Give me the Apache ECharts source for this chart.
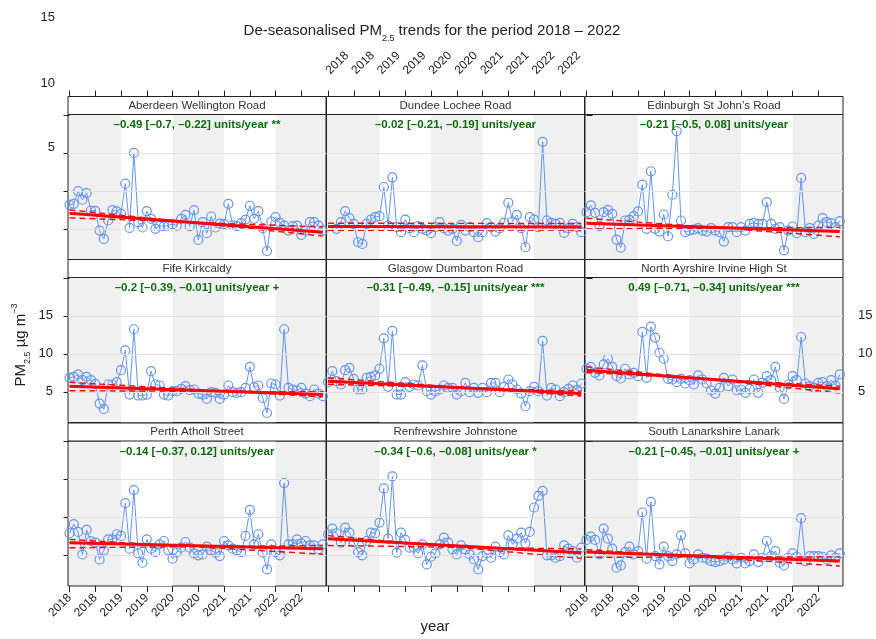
<!DOCTYPE html>
<html><head><meta charset="utf-8">
<script src="https://cdn.jsdelivr.net/npm/echarts@6/dist/echarts.min.js"></script>
<style>html,body{margin:0;padding:0;background:#fff}#c{width:876px;height:639px}</style>
</head><body><div id="c"></div>
<script>
// ---------- data ----------
const sites = ['Aberdeen Wellington Road','Dundee Lochee Road','Edinburgh St John\u2019s Road',
  'Fife Kirkcaldy','Glasgow Dumbarton Road','North Ayrshire Irvine High St',
  'Perth Atholl Street','Renfrewshire Johnstone','South Lanarkshire Lanark'];
const trendLabels = [
  '\u20130.49 [\u20130.7, \u20130.22] units/year **',
  '\u20130.02 [\u20130.21, \u20130.19] units/year',
  '\u20130.21 [\u20130.5, 0.08] units/year',
  '\u20130.2 [\u20130.39, \u20130.01] units/year +',
  '\u20130.31 [\u20130.49, \u20130.15] units/year ***',
  '0.49 [\u20130.71, \u20130.34] units/year ***',
  '\u20130.14 [\u20130.37, 0.12] units/year',
  '\u20130.34 [\u20130.6, \u20130.08] units/year *',
  '\u20130.21 [\u20130.45, \u20130.01] units/year +'];
// month index 0 = Jan 2018 ... 59 = Dec 2022
const tickMonths = [0,6,12,18,24,30,36,42,48,54];
const tickYears = ['2018','2018','2019','2019','2020','2020','2021','2021','2022','2022'];
const yTicks = [5,10,15,20];
const yLabels = [5,10,15];

const aberdeen = [8.17,8.30,9.98,8.83,9.71,7.42,7.38,4.78,3.68,6.10, 7.47,7.29,6.98,10.95,5.13,15.0,5.88,5.18,7.33,6.32, 5.0,5.40,5.35,5.44,5.62,5.44,6.32,6.85,5.35,7.47, 3.55,5.88,4.43,6.63,5.18,5.70,5.62,8.30,5.48,5.35, 5.75,6.23,8.04,6.32,7.33,5.09,2.09,5.97,6.54,5.79, 5.44,4.78,5.35,5.44,4.21,4.78,5.88,5.88,5.44,4.78];
const dundee = [null,null,5.0,5.88,7.33,6.41,5.66,3.24,3.02,5.66, 6.23,6.54,6.67,10.51,5.44,11.78,5.22,4.56,6.23,5.09, 4.56,5.35,5.0,4.78,4.43,5.22,5.88,5.09,4.78,5.0, 3.41,5.53,4.78,5.22,4.56,3.90,4.56,5.75,5.22,4.65, 5.09,5.79,8.44,5.97,6.85,5.09,2.58,6.54,6.23,5.22, 16.45,6.10,5.79,5.66,5.79,4.47,5.09,5.66,5.22,4.56];
const edinburgh = [7.20,8.08,7.11,5.35,7.20,7.51,6.98,3.59,2.53,6.10, 6.19,6.67,7.29,10.81,5.0,12.58,5.0,4.65,6.89,4.03, 9.49,17.86,6.10,4.56,4.78,4.91,5.09,4.78,4.65,5.09, 4.78,4.56,3.33,5.22,5.22,4.56,5.22,4.78,5.66,5.79, 5.66,5.66,8.52,5.66,5.0,5.22,2.18,4.78,5.31,4.43, 11.70,4.56,5.09,4.34,5.44,6.41,5.88,5.75,5.22,6.01];
const fife = [6.85,6.98,7.29,6.54,6.98,6.54,6.06,3.46,2.75,5.97, 5.97,6.28,7.86,10.46,4.65,13.24,4.52,4.52,4.65,7.73, 5.97,5.84,4.65,4.52,5.09,5.09,5.40,5.75,5.22,5.31, 4.78,4.65,4.07,4.96,4.87,4.07,4.65,5.84,4.96,4.87, 4.96,5.53,8.30,5.62,5.84,4.21,2.22,6.10,5.97,4.52, 13.24,5.53,5.31,5.18,5.53,4.78,4.43,5.31,4.78,4.43];
const glasgow = [6.28,7.73,6.41,5.97,7.86,8.17,6.72,5.31,5.31,6.85, 6.98,7.16,8.04,12.05,5.66,13.02,4.65,4.65,6.28,5.66, 5.97,5.84,8.48,5.09,4.65,5.09,5.31,5.84,5.53,5.53, 4.65,5.09,6.19,4.96,5.53,4.87,5.53,4.96,6.19,6.19, 4.96,5.66,6.63,5.97,5.31,4.78,3.11,5.09,5.66,5.09, 11.70,4.52,5.53,5.31,4.43,4.96,5.40,5.84,5.22,6.10];
const nAyrshire = [8.04,8.30,7.51,7.16,8.61,9.36,8.30,7.07,6.76,8.04, 7.29,7.51,7.07,12.89,6.85,13.59,12.14,10.15,9.36,6.72, 6.63,6.28,6.72,6.10,6.54,5.97,7.16,6.63,6.10,5.18, 4.78,5.53,6.85,5.75,6.63,5.18,5.31,4.87,5.40,6.63, 4.87,6.19,7.07,6.54,8.30,5.53,4.07,5.97,7.07,6.54, 12.22,6.10,5.75,5.53,6.19,6.28,5.75,6.54,5.84,7.29];
const perth = [7.91,9.10,8.08,5.13,8.35,6.89,6.67,4.47,5.66,7.11, 7.11,7.78,7.56,11.87,5.88,13.59,5.26,4.03,7.11,5.88, 5.44,6.45,6.89,5.70,4.56,5.44,6.01,6.76,6.01,5.26, 5.0,5.13,6.15,5.66,5.35,4.91,6.89,6.32,5.88,5.66, 5.44,7.56,10.99,6.45,7.78,5.35,3.15,6.45,5.44,5.0, 14.52,6.45,6.45,7.11,6.59,6.89,6.32,6.32,5.79,6.45];
const renfrew = [7.78,8.52,7.91,6.67,8.66,7.99,6.76,5.44,5.0,6.89, 7.99,7.91,9.32,13.81,7.20,15.40,5.35,7.99,7.03,6.01, 6.01,5.26,6.45,3.81,4.82,5.26,6.45,7.33,6.67,5.79, 5.13,6.32,5.79,5.13,4.47,3.15,4.91,5.26,4.69,6.15, 5.44,5.13,7.64,6.45,7.20,7.99,6.59,8.08,11.30,12.84, 13.50,5.0,5.0,4.69,4.91,6.32,5.88,5.57,4.69,6.01];
const sLanark = [7.03,7.47,7.03,5.13,8.52,7.20,5.88,3.37,3.68,5.44, 6.15,5.13,5.57,10.64,4.56,12.05,4.91,3.81,6.15,4.91, 4.25,5.13,7.64,5.26,3.94,4.47,5.13,4.69,4.56,4.25, 4.12,4.25,4.47,4.82,4.47,3.94,4.69,3.94,4.25,5.13, 4.12,4.69,6.89,4.91,5.57,4.03,3.68,4.69,5.26,4.82, 9.89,4.25,4.91,4.91,4.91,4.82,4.47,5.0,4.69,5.26];
const siteValues = [aberdeen,dundee,edinburgh,fife,glasgow,nAyrshire,perth,renfrew,sLanark];

// trend line end values (Jan 2018 / Dec 2022)
const trendStart = [7.07,5.30,5.75,5.75,6.41,7.86,6.67,7.20,5.44];
const trendEnd   = [4.56,5.25,4.65,4.65,4.78,5.40,5.88,5.35,4.25];
const ciAStart   = [7.50,5.75,6.40,6.25,6.85,8.30,7.10,7.60,5.75];
const ciAEnd     = [4.05,5.70,3.95,4.35,4.45,4.85,5.15,4.60,3.60];
const ciBStart   = [6.45,4.80,5.00,5.15,6.00,7.55,6.00,6.30,4.75];
const ciBEnd     = [5.25,4.85,5.20,5.00,5.10,5.75,6.30,5.85,4.80];

// ---------- layout ----------
const FONT = '"Liberation Sans", Arial, Helvetica, sans-serif';
const colLeft = [68, 326.5, 585];
const rowTop = [114.5, 277.5, 441];
const W = 258, H = 145, STRIP = 18;
const firstM = 0, lastM = 59;

const grids = [], xAxes = [], yAxes = [], series = [], graphics = [];
const tickLabel = v => { const k = tickMonths.indexOf(v); return k >= 0 ? tickYears[k] : ''; };

for (let i = 0; i < 9; i++) {
  const r = Math.floor(i / 3), c = i % 3;
  grids.push({left: colLeft[c], top: rowTop[r], width: W, height: H, show: true,
    backgroundColor: '#f0f0f0', borderColor: '#222', borderWidth: 1, containLabel: false});
  const showXLab = (r === 2 && c !== 1) || (r === 0 && c === 1);
  xAxes.push({gridIndex: i, type: 'value', min: -0.35, max: 59.75,
    show: r !== 1, position: r === 0 ? 'top' : 'bottom', offset: r === 0 ? STRIP : 0,
    axisLine: {show: false}, splitLine: {show: false},
    axisTick: {show: true, inside: false, length: 6, customValues: tickMonths, lineStyle: {color: '#222'}},
    axisLabel: {show: showXLab, customValues: tickMonths, formatter: tickLabel, rotate: r === 0 ? -45 : 45,
      fontSize: 12, color: '#222', fontFamily: FONT, margin: r === 0 ? 24 : 10}});
  yAxes.push({gridIndex: i, type: 'value', min: 0.97, max: 20.05,
    show: c !== 1, position: c === 2 ? 'right' : 'left',
    axisLine: {show: false}, splitLine: {show: false},
    axisTick: {show: true, inside: false, length: 6, customValues: yTicks, lineStyle: {color: '#222'}},
    axisLabel: {show: i === 5 || i === 3, customValues: yLabels, fontSize: 13, color: '#222', fontFamily: FONT, margin: 15}});

  // year shading (white bands for 2019 and 2021)
  series.push({type: 'line', xAxisIndex: i, yAxisIndex: i, data: [], z: 1, silent: true,
    markArea: {silent: true, itemStyle: {color: '#ffffff'},
      data: [[{xAxis: 12}, {xAxis: 24}], [{xAxis: 36}, {xAxis: 48}]]}});
  // horizontal reference lines
  series.push({type: 'line', xAxisIndex: i, yAxisIndex: i, data: [], z: 2, silent: true,
    markLine: {silent: true, symbol: ['none', 'none'], label: {show: false},
      lineStyle: {color: '#e2e2e2', type: 'solid', width: 1},
      data: yLabels.map(v => ({yAxis: v}))}});
  // monthly de-seasonalised values
  series.push({type: 'line', xAxisIndex: i, yAxisIndex: i, z: 3,
    data: siteValues[i].map((v, m) => [m, v]),
    symbol: 'circle', symbolSize: 9, showSymbol: true, connectNulls: false,
    lineStyle: {color: '#6495ED', width: 1},
    itemStyle: {color: 'rgba(255,255,255,0)', borderColor: '#6495ED', borderWidth: 1.2}});
  // trend + confidence lines
  series.push({type: 'line', xAxisIndex: i, yAxisIndex: i, z: 4, symbol: 'none',
    data: [[firstM, ciAStart[i]], [lastM, ciAEnd[i]]],
    lineStyle: {color: '#ff0000', width: 1.4, type: [6, 4]}});
  series.push({type: 'line', xAxisIndex: i, yAxisIndex: i, z: 4, symbol: 'none',
    data: [[firstM, ciBStart[i]], [lastM, ciBEnd[i]]],
    lineStyle: {color: '#ff0000', width: 1.4, type: [6, 4]}});
  series.push({type: 'line', xAxisIndex: i, yAxisIndex: i, z: 5, symbol: 'none',
    data: [[firstM, trendStart[i]], [lastM, trendEnd[i]]],
    lineStyle: {color: '#ff0000', width: 3}});

  // strip
  graphics.push({type: 'rect', z: 50, shape: {x: colLeft[c], y: rowTop[r] - STRIP, width: W, height: STRIP},
    style: {fill: '#fff', stroke: '#222', lineWidth: 1}});
  graphics.push({type: 'text', z: 51, x: colLeft[c] + W / 2, y: rowTop[r] - STRIP / 2,
    style: {text: sites[i], fill: '#333', font: '11.5px ' + FONT, align: 'center', verticalAlign: 'middle'}});
  graphics.push({type: 'text', z: 60, x: colLeft[c] + W / 2, y: rowTop[r] + 10.5,
    style: {text: trendLabels[i], fill: '#0a6b0a', font: 'bold 11.5px ' + FONT, align: 'center', verticalAlign: 'middle'}});
}

// title
graphics.push({type: 'text', z: 60, x: 432, y: 31,
  style: {text: '{a|De-seasonalised PM}{s|2.5}{a| trends for the period 2018 \u2013 2022}',
    align: 'center', verticalAlign: 'middle',
    rich: {a: {fontSize: 15, fontFamily: FONT, fill: '#222', lineHeight: 24, verticalAlign: 'middle'},
           s: {fontSize: 9, fontFamily: FONT, fill: '#222', lineHeight: 24, verticalAlign: 'bottom'}}}});
// y axis title
graphics.push({type: 'text', z: 60, x: 21, y: 345, rotation: Math.PI / 2,
  style: {text: '{a|PM}{s|2.5}{a| \u00b5g m}{p|\u22123}', align: 'center', verticalAlign: 'middle',
    rich: {a: {fontSize: 15, fontFamily: FONT, fill: '#222', lineHeight: 22, verticalAlign: 'middle'},
           s: {fontSize: 9, fontFamily: FONT, fill: '#222', lineHeight: 22, verticalAlign: 'bottom'},
           p: {fontSize: 9, fontFamily: FONT, fill: '#222', lineHeight: 22, verticalAlign: 'top'}}}});
// x axis title
graphics.push({type: 'text', z: 60, x: 435, y: 627,
  style: {text: 'year', fill: '#222', font: '15px ' + FONT, align: 'center', verticalAlign: 'middle'}});
// stray left tick labels of the top row
[['15', 17], ['10', 83], ['5', 147]].forEach(([t, y]) => graphics.push({type: 'text', z: 60, x: 55, y: y,
  style: {text: t, fill: '#222', font: '13px ' + FONT, align: 'right', verticalAlign: 'middle'}}));

const chart = echarts.init(document.getElementById('c'), null, {renderer: 'canvas'});
chart.setOption({animation: false, backgroundColor: '#fff', grid: grids, xAxis: xAxes, yAxis: yAxes,
  series: series, graphic: graphics});
</script></body></html>
